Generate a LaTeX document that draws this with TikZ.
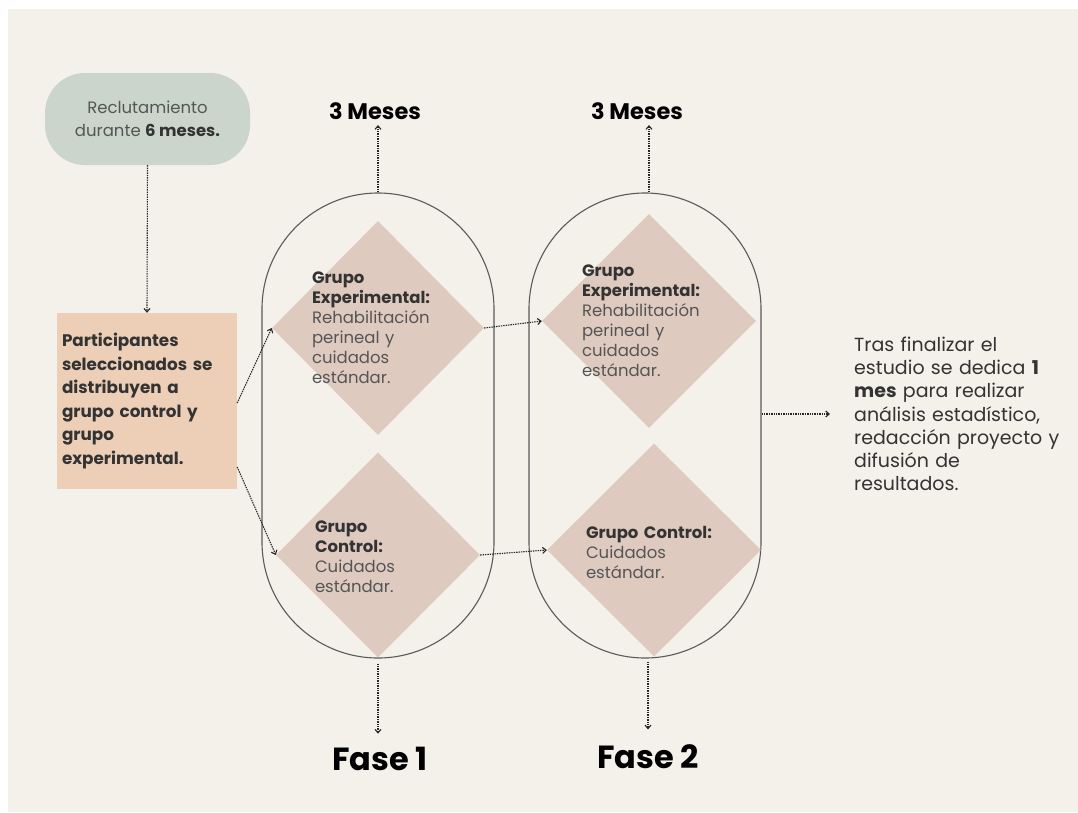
\documentclass[tikz,border=0pt]{standalone}
\usepackage{fontspec}
\setmainfont{Poppins}
\usepackage{tikz}
\usetikzlibrary{arrows.meta, shapes.geometric, calc, positioning}
\definecolor{Sand}    {HTML}{F4F0EA}
\definecolor{Sage}    {HTML}{CCD5CC}
\definecolor{Peach}   {HTML}{EDCFB7}
\definecolor{Blush}   {HTML}{DFCAC0}
\definecolor{InkGrey} {HTML}{333333}
\definecolor{SoftGrey}{HTML}{555555}
\definecolor{Outline} {HTML}{5A5A5A}
\tikzset{
  flow/.style={-{Straight Barb[length=3.5pt, width=6pt]}, line width=1.1pt,
               dash pattern=on 1.4pt off 1pt, black!85},
  capsule/.style={draw=Outline, line width=1.1pt, rounded corners=115.9pt,
                  minimum width=232pt, minimum height=465pt, inner sep=0pt},
  grp/.style={diamond, fill=Blush, inner sep=0pt},
  grptext/.style={text width=134pt, align=left, inner sep=0pt,
                  font=\fontsize{16.5}{20}\selectfont, text=SoftGrey},
}

\begin{document}
\begin{tikzpicture}[x=1pt, y=-1pt]
  \useasboundingbox (0,0) rectangle (1078,812);
  % Page: white strip top/left, sand background
  \fill[white] (0,0) rectangle (1078,812);
  \fill[Sand]  (8,9) rectangle (1078,812);
  % Recruitment and allocation
  \node[fill=Sage, rounded corners=40pt, minimum width=205pt, minimum height=92pt,
        align=center, text=SoftGrey, font=\fontsize{16.5}{23}\selectfont] (recl) at (147.5,119)
    {Reclutamiento\\durante {\color{InkGrey}\bfseries 6 meses.}};
  \node[fill=Peach, minimum width=180pt, minimum height=176pt, text width=170pt, inner sep=5pt,
        align=left, text=InkGrey, font=\bfseries\fontsize{16.8}{23.5}\selectfont] (particip) at (147,401)
    {Participantes\\seleccionados se\\distribuyen a\\grupo control y\\grupo\\experimental.};
  % Phases
  \node[capsule] (cap1) at (378,425.5) {};
  \node[capsule] (cap2) at (645,425.5) {};
  \node[grp, minimum width=212pt, minimum height=214pt] (gexp1) at (378,328) {};
  \node[grp, minimum width=204pt, minimum height=205pt] (gcon1) at (378,555) {};
  \node[grp, minimum width=214pt, minimum height=214pt] (gexp2) at (649,321) {};
  \node[grp, minimum width=214pt, minimum height=213pt] (gcon2) at (654,550) {};
  \node[grptext] (gexp1t) at ([xshift=1pt]gexp1.center)
    {{\color{InkGrey}\bfseries Grupo\\Experimental:}\\Rehabilitación\\perineal y\\cuidados\\estándar.};
  \node[grptext] (gcon1t) at ([xshift=4pt, yshift=-2pt]gcon1.center)
    {{\color{InkGrey}\bfseries Grupo\\Control:}\\Cuidados\\estándar.};
  \node[grptext] (gexp2t) at ([xshift=0pt]gexp2.center)
    {{\color{InkGrey}\bfseries Grupo\\Experimental:}\\Rehabilitación\\perineal y\\cuidados\\estándar.};
  \node[grptext] (gcon2t) at ([xshift=-1pt, yshift=-2pt]gcon2.center)
    {{\color{InkGrey}\bfseries Grupo Control:}\\Cuidados\\estándar.};
  \node[font=\bfseries\fontsize{22.5}{26}\selectfont] (mes1) at (375,111) {3 Meses};
  \node[font=\bfseries\fontsize{22.5}{26}\selectfont] (mes2) at (637,111) {3 Meses};
  \node[font=\bfseries\fontsize{32}{34}\selectfont] (fase1) at (380,759) {Fase 1};
  \node[font=\bfseries\fontsize{32}{34}\selectfont] (fase2) at (648,757) {Fase 2};
  \node[anchor=west, text width=220pt, inner sep=0pt, align=left, text=InkGrey,
        font=\fontsize{19}{23.2}\selectfont] (tras) at (854,414)
    {Tras finalizar el\\estudio se dedica \textbf{1}\\\textbf{mes} para realizar\\análisis estadístico,\\redacción proyecto y\\difusión de\\resultados.};
  % Connectors
  \draw[flow] (recl.south) -- (particip.north);
  \draw[flow] ([yshift=-2pt]particip.east) -- (gexp1.west);
  \draw[flow] ([yshift=-66pt]particip.east) -- (gcon1.west);
  \draw[flow] (gexp1.east) -- (gexp2.west);
  \draw[flow] (gcon1.east) -- (gcon2.west);
  \draw[flow, shorten >=2pt] (cap1.north) -- (cap1.north |- mes1.south);
  \draw[flow, shorten >=2pt] ([xshift=4pt]cap2.north) -- ([xshift=4pt]cap2.north |- mes2.south);
  \draw[flow, shorten <=5pt, shorten >=10pt] (cap1.south) -- (cap1.south |- fase1.north);
  \draw[flow, shorten <=3pt, shorten >=12pt] ([xshift=3pt]cap2.south) -- ([xshift=3pt]cap2.south |- fase2.north);
  \draw[flow, shorten >=24pt] (cap2.east |- tras.west) -- (tras.west);
\end{tikzpicture}
\end{document}
